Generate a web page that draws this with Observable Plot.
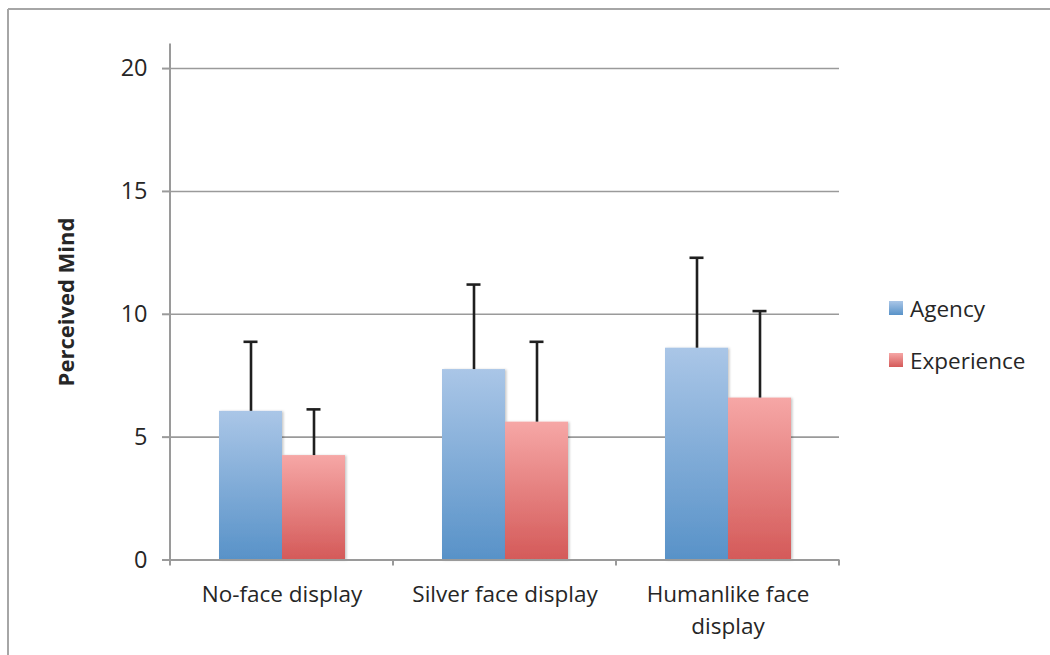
<!DOCTYPE html>
<html><head><meta charset="utf-8">
<script src="https://cdn.jsdelivr.net/npm/d3@7"></script>
<script src="https://cdn.jsdelivr.net/npm/@observablehq/plot@0.6"></script>
<style>
body{margin:0;background:#fff;}
#chart{position:relative;width:1050px;height:655px;}
#chart svg{font-family:"Open Sans",sans-serif;}
</style>
</head><body><div id="chart"></div>
<script>
// ---- data ----
const categories = ["No-face display", "Silver face display", "Humanlike face display"];
const categoryLabels = ["No-face display", "Silver face display", "Humanlike face\ndisplay"];
const series = ["Agency", "Experience"];
const agencyMeans = [6.05, 7.75, 8.62];
const agencyErrorTops = [8.88, 11.21, 12.30];
const experienceMeans = [4.25, 5.61, 6.59];
const experienceErrorTops = [6.13, 8.88, 10.13];
const yTicks = [0, 5, 10, 15, 20];
const yLabel = "Perceived Mind";

const seriesColors = {
  Agency: {top: "#aac6e7", bottom: "#5892c8"},
  Experience: {top: "#f6a7a6", bottom: "#d45a59"}
};
const gradId = s => "grad-" + s;

const rows = [];
categories.forEach((c, i) => {
  rows.push({category: c, series: "Agency", value: agencyMeans[i], hi: agencyErrorTops[i]});
  rows.push({category: c, series: "Experience", value: experienceMeans[i], hi: experienceErrorTops[i]});
});
const labelRows = categories.map((c, i) => ({category: c, label: categoryLabels[i]}));

const gray = "#9a9a9a";
const textColor = "#262626";

const plot = Plot.plot({
  width: 1050,
  height: 655,
  marginLeft: 169,
  marginRight: 210,
  marginTop: 43.5,
  marginBottom: 95.5,
  style: {fontFamily: "'Open Sans', sans-serif", fontSize: "22.5px", color: textColor, background: "#fff"},
  fx: {domain: categories, padding: 0, axis: null, label: null},
  x: {domain: series, paddingInner: 0, paddingOuter: 0.75, axis: null, label: null},
  y: {domain: [0, 21], axis: null, label: null},
  marks: [
    Plot.ruleY(yTicks.filter(t => t > 0), {stroke: gray, strokeWidth: 1.6}),
    Plot.barY(rows, {fx: "category", x: "series", y: "value", fill: d => `url(#${gradId(d.series)})`}),
    Plot.ruleX(rows, {fx: "category", x: "series", y1: "value", y2: "hi", stroke: "#1f1f1f", strokeWidth: 2.6}),
    Plot.tickY(rows, {fx: "category", x: "series", y: "hi", stroke: "#1f1f1f", strokeWidth: 2.6, insetLeft: 24.5, insetRight: 24.5}),
    Plot.ruleY([0], {stroke: gray, strokeWidth: 2}),
    Plot.axisY({ticks: yTicks, tickSize: 8, tickPadding: 15, stroke: gray, strokeWidth: 2, fill: textColor, fontSize: 23.5, label: null, tickFormat: d => String(d)}),
    Plot.text(labelRows, {fx: "category", text: "label", frameAnchor: "bottom", lineAnchor: "top", dy: 19, lineHeight: 1.42, fill: textColor, fontSize: 22.5}),
    Plot.text([{category: categories[0]}], {fx: "category", text: () => yLabel, frameAnchor: "left", textAnchor: "middle", dx: -104, rotate: -90, fontWeight: "bold", fill: textColor, fontSize: 22})
  ]
});

document.getElementById("chart").appendChild(plot);

// ---- decorations drawn with the plot's own scales ----
const svg = d3.select(plot.tagName.toLowerCase() === "svg" ? plot : plot.querySelector("svg"));
const defs = svg.insert("defs", ":first-child");
series.forEach(s => {
  const g = defs.append("linearGradient").attr("id", gradId(s)).attr("x1", 0).attr("y1", 0).attr("x2", 0).attr("y2", 1);
  g.append("stop").attr("offset", "0%").attr("stop-color", seriesColors[s].top);
  g.append("stop").attr("offset", "100%").attr("stop-color", seriesColors[s].bottom);
});
const shadow = defs.append("filter").attr("id", "barshadow").attr("x", "-10%").attr("y", "-10%").attr("width", "130%").attr("height", "130%");
shadow.append("feDropShadow").attr("dx", 1.5).attr("dy", 0.5).attr("stdDeviation", 1.2).attr("flood-color", "#000").attr("flood-opacity", 0.22);
svg.selectAll("g[aria-label='bar'] rect").attr("filter", "url(#barshadow)");

const fxS = plot.scale("fx");
const yS = plot.scale("y");
const y0 = yS.apply(0);
const yTop = yS.apply(yS.domain[1]);
const band = fxS.bandwidth;
const left = fxS.apply(categories[0]);
const deco = svg.append("g").attr("stroke", gray).attr("stroke-width", 2).attr("fill", "none");
// y axis line
deco.append("line").attr("x1", left).attr("x2", left).attr("y1", yTop).attr("y2", y0 + 6);
// category boundary ticks
categories.forEach(c => {
  const xr = fxS.apply(c) + band;
  deco.append("line").attr("x1", xr).attr("x2", xr).attr("y1", y0).attr("y2", y0 + 6);
});
// chart border (top and left)
const border = svg.append("g").attr("stroke", "#a6a6a6").attr("stroke-width", 2).attr("fill", "none");
border.append("line").attr("x1", 8).attr("x2", 1050).attr("y1", 9).attr("y2", 9);
border.append("line").attr("x1", 8).attr("x2", 8).attr("y1", 9).attr("y2", 655);

// legend
const legendX = fxS.apply(categories[categories.length - 1]) + band + 50;
const legend = svg.append("g").attr("font-family", "'Open Sans', sans-serif").attr("font-size", 22.5)
  .attr("fill", textColor).attr("text-anchor", "start");
series.forEach((s, i) => {
  const cy = 309 + i * 52;
  legend.append("rect").attr("x", legendX).attr("y", cy - 8).attr("width", 14).attr("height", 14)
    .attr("fill", `url(#${gradId(s)})`);
  legend.append("text").attr("x", legendX + 21).attr("y", cy).attr("dy", "0.35em").text(s);
});
</script>
</body></html>
